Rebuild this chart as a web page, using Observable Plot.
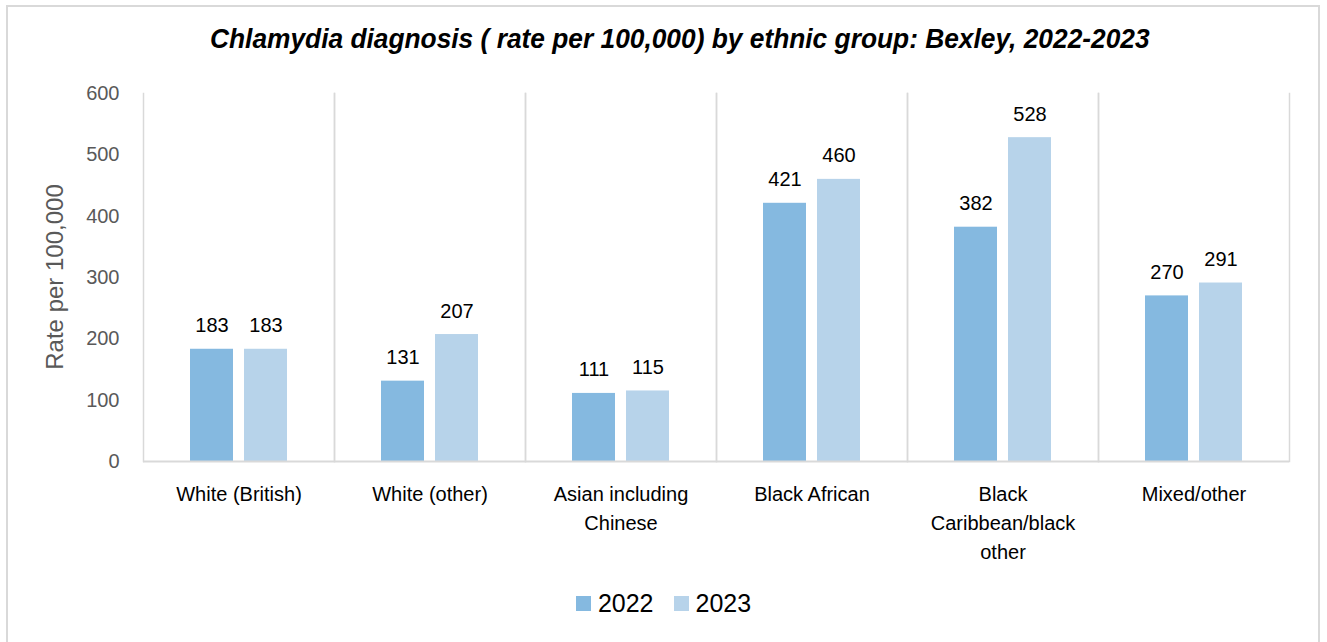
<!DOCTYPE html>
<html>
<head>
<meta charset="utf-8">
<script src="https://cdn.jsdelivr.net/npm/d3@7"></script>
<script src="https://cdn.jsdelivr.net/npm/@observablehq/plot@0.6"></script>
<style>
  html, body { margin: 0; padding: 0; background: #fff; }
  #wrap { position: relative; width: 1327px; height: 642px; overflow: hidden; background: #fff; }
  #border { position: absolute; left: 6px; top: 5px; width: 1314px; height: 660px; border: 2px solid #d9d9d9; box-sizing: border-box; }
  #title { position: absolute; left: 16px; top: 23px; width: 1327px; text-align: center;
    font-family: "Liberation Sans Narrow", "Liberation Sans", sans-serif; font-weight: bold; font-style: italic;
    font-size: 28px; color: #000; }
  #title span { display: inline-block; transform: scaleX(0.94); transform-origin: center; }
  #chart { position: absolute; left: 0; top: 0; }
  #legend { position: absolute; left: 0; top: 589px; width: 1327px; display: flex; justify-content: center; gap: 20px;
    font-family: "Liberation Sans", Arial, sans-serif; font-size: 25px; color: #000; }
  #legend .item { display: flex; align-items: center; gap: 7px; }
  #legend .sw { width: 15px; height: 15px; display: inline-block; }
</style>
</head>
<body>
<div id="wrap">
  <div id="border"></div>
  <div id="title"><span></span></div>
  <div id="chart"></div>
  <div id="legend"></div>
</div>
<script>
const title = "Chlamydia diagnosis ( rate per 100,000) by ethnic group: Bexley, 2022-2023";
const categories = ["White (British)", "White (other)", "Asian including Chinese", "Black African", "Black Caribbean/black other", "Mixed/other"];
const categoryLabels = ["White (British)", "White (other)", "Asian including\nChinese", "Black African", "Black\nCaribbean/black\nother", "Mixed/other"];
const years = ["2022", "2023"];
const values2022 = [183, 131, 111, 421, 382, 270];
const values2023 = [183, 207, 115, 460, 528, 291];
const colors = ["#85b9e0", "#b7d3ea"];
const yTicks = [0, 100, 200, 300, 400, 500, 600];
const yLabel = "Rate per 100,000";

document.querySelector("#title span").textContent = title;

const data = [];
categories.forEach((c, i) => {
  data.push({category: c, year: years[0], value: values2022[i]});
  data.push({category: c, year: years[1], value: values2023[i]});
});
const labelOf = new Map(categories.map((c, i) => [c, categoryLabels[i]]));

const chart = Plot.plot({
  width: 1327,
  height: 580,
  marginLeft: 142,
  marginRight: 37,
  marginTop: 93,
  marginBottom: 119,
  style: {fontFamily: "Liberation Sans, Arial, sans-serif", fontSize: "20px", background: "transparent", overflow: "visible"},
  fx: {domain: categories, padding: 0, label: null, axis: null},
  x: {domain: years, paddingInner: 0.2, paddingOuter: 0.84, axis: null},
  y: {domain: [0, 600], ticks: yTicks, label: null, axis: null},
  color: {domain: years, range: colors},
  marks: [
    Plot.frame({anchor: "left", stroke: "#d9d9d9", strokeWidth: 1.5}),
    Plot.frame({anchor: "right", stroke: "#d9d9d9", strokeWidth: 1.5}),
    Plot.barY(data, {fx: "category", x: "year", y: "value", fill: "year"}),
    Plot.ruleY([0], {stroke: "#d9d9d9", strokeWidth: 2}),
    Plot.text(data, {fx: "category", x: "year", y: "value", text: d => String(d.value), lineAnchor: "bottom", dy: -17, fill: "#000", fontSize: 20}),
    Plot.axisY({ticks: yTicks, tickSize: 0, tickPadding: 24, fontSize: 20, color: "#595959", label: null, facetAnchor: "left"}),
    Plot.axisFx({domain: categories, tickSize: 0, tickPadding: 19, tickFormat: c => labelOf.get(c), lineHeight: 1.45, fontSize: 20, color: "#000", label: null, anchor: "bottom"})
  ]
});
document.getElementById("chart").appendChild(chart);

// y-axis title as real text in the svg
const svg = d3.select(chart);
svg.append("text")
  .attr("transform", "translate(57,277) rotate(-90)")
  .attr("text-anchor", "middle")
  .attr("dominant-baseline", "middle")
  .attr("fill", "#595959")
  .attr("font-size", 24)
  .attr("font-family", "Liberation Sans, Arial, sans-serif")
  .text(yLabel);

const legend = document.getElementById("legend");
years.forEach((y, i) => {
  const item = document.createElement("div");
  item.className = "item";
  const sw = document.createElement("span");
  sw.className = "sw";
  sw.style.background = colors[i];
  const t = document.createElement("span");
  t.textContent = y;
  item.appendChild(sw);
  item.appendChild(t);
  legend.appendChild(item);
});
</script>
</body>
</html>
